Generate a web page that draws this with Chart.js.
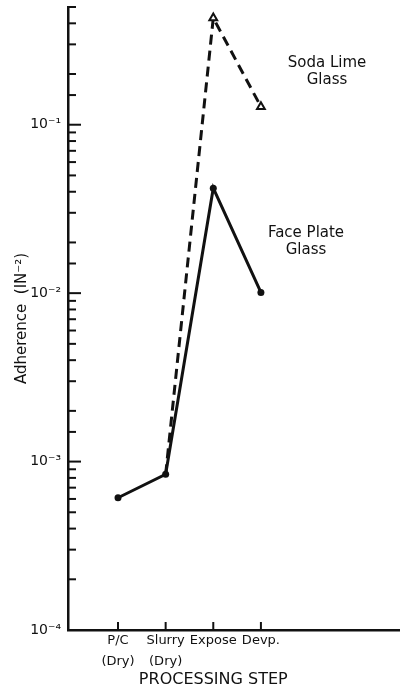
<!DOCTYPE html>
<html>
<head>
<meta charset="utf-8">
<title>Adherence vs processing step</title>
<script src="https://cdn.jsdelivr.net/npm/chart.js@4/dist/chart.umd.min.js"></script>
<style>
  html, body { margin: 0; padding: 0; background: #fff; }
  #wrap { width: 400px; height: 692px; position: relative; }
</style>
</head>
<body>
<div id="wrap"><canvas id="chart"></canvas></div>
<script>
// processing steps along the x axis (position 1..4)
const steps = [['P/C', '(Dry)'], ['Slurry', '(Dry)'], ['Expose'], ['Devp.']];
const stepPos = [1, 2, 3, 4];

// adherence, IN^-2
const facePlate = [6.1e-4, 8.4e-4, 0.042, 0.0101];
const sodaLime = [null, 8.4e-4, 0.43, 0.128];

// decade labels on the log axis
const decadeValues = [1e-4, 1e-3, 1e-2, 1e-1];
const decadeLabels = ['10⁻⁴', '10⁻³', '10⁻²', '10⁻¹'];

const INK = '#111';
const FONT = 'DejaVu Sans';

const toPoints = vals => vals.map((v, i) => ({ x: stepPos[i], y: v }));

// tick marks point into the plot, plus the free text labels
const innerTicks = {
    id: 'innerTicks',
    afterDraw(chart) {
        const ctx = chart.ctx;
        const xs = chart.scales.x;
        const ys = chart.scales.y;
        const area = chart.chartArea;
        ctx.save();
        ctx.strokeStyle = INK;
        ctx.lineWidth = 2;
        ys.ticks.forEach(t => {
            const py = ys.getPixelForValue(t.value);
            const exp = Math.log10(t.value);
            const len = Math.abs(exp - Math.round(exp)) < 1e-6 ? 13 : 8;
            ctx.beginPath();
            ctx.moveTo(area.left, py);
            ctx.lineTo(area.left + len, py);
            ctx.stroke();
        });
        xs.ticks.forEach(t => {
            const px = xs.getPixelForValue(t.value);
            ctx.beginPath();
            ctx.moveTo(px, area.bottom);
            ctx.lineTo(px, area.bottom - 8);
            ctx.stroke();
        });

        ctx.fillStyle = INK;
        ctx.textAlign = 'center';
        ctx.textBaseline = 'middle';
        ctx.font = '16px "' + FONT + '"';
        ctx.fillText('PROCESSING STEP', xs.getPixelForValue(3), 680);

        ctx.font = '15px "' + FONT + '"';
        ctx.fillText('Soda Lime', 327, 63);
        ctx.fillText('Glass', 327, 80);
        ctx.fillText('Face Plate', 306, 233);
        ctx.fillText('Glass', 306, 250);
        ctx.restore();
    }
};

new Chart(document.getElementById('chart'), {
    type: 'line',
    data: {
        datasets: [
            {
                label: 'Face Plate Glass',
                data: toPoints(facePlate),
                borderColor: INK,
                borderWidth: 3,
                pointRadius: 3.5,
                pointBackgroundColor: INK,
                pointBorderWidth: 0,
                clip: false
            },
            {
                label: 'Soda Lime Glass',
                data: toPoints(sodaLime),
                borderColor: INK,
                borderWidth: 3,
                borderDash: [10, 6],
                pointStyle: 'triangle',
                pointRadius: [0, 0, 4.5, 4.5],
                pointBackgroundColor: '#fff',
                pointBorderColor: INK,
                pointBorderWidth: 2,
                clip: false
            }
        ]
    },
    options: {
        responsive: true,
        maintainAspectRatio: false,
        animation: false,
        layout: { autoPadding: false, padding: { top: 7, right: 0, left: 0, bottom: 0 } },
        plugins: {
            legend: { display: false },
            tooltip: { enabled: false }
        },
        scales: {
            x: {
                type: 'linear',
                min: -0.05,
                max: 6.92,
                afterBuildTicks: scale => {
                    scale.ticks = stepPos.map(v => ({ value: v }));
                },
                afterFit: scale => {
                    scale.height = 62;
                    scale.paddingLeft = 0;
                    scale.paddingRight = 0;
                },
                grid: { display: false, drawTicks: false },
                border: { display: true, color: INK, width: 2.5 },
                ticks: {
                    autoSkip: false,
                    maxRotation: 0,
                    padding: 1,
                    color: INK,
                    font: { family: FONT, size: 13, lineHeight: 1.55 },
                    callback: (value, index) => steps[index]
                }
            },
            y: {
                type: 'logarithmic',
                min: 1e-4,
                max: 0.5,
                afterFit: scale => {
                    scale.width = 68;
                    scale.paddingTop = 0;
                    scale.paddingBottom = 0;
                },
                grid: { display: false, drawTicks: false },
                border: { display: true, color: INK, width: 2.5 },
                title: {
                    display: true,
                    text: 'Adherence  (IN⁻²)',
                    color: INK,
                    font: { family: FONT, size: 15 },
                    padding: { top: 13, bottom: 0 }
                },
                ticks: {
                    autoSkip: false,
                    padding: 7,
                    color: INK,
                    font: { family: FONT, size: 14 },
                    callback: value => {
                        const i = decadeValues.findIndex(d => Math.abs(d - value) / d < 1e-6);
                        return i >= 0 ? decadeLabels[i] : '';
                    }
                }
            }
        }
    },
    plugins: [innerTicks]
});
</script>
</body>
</html>
